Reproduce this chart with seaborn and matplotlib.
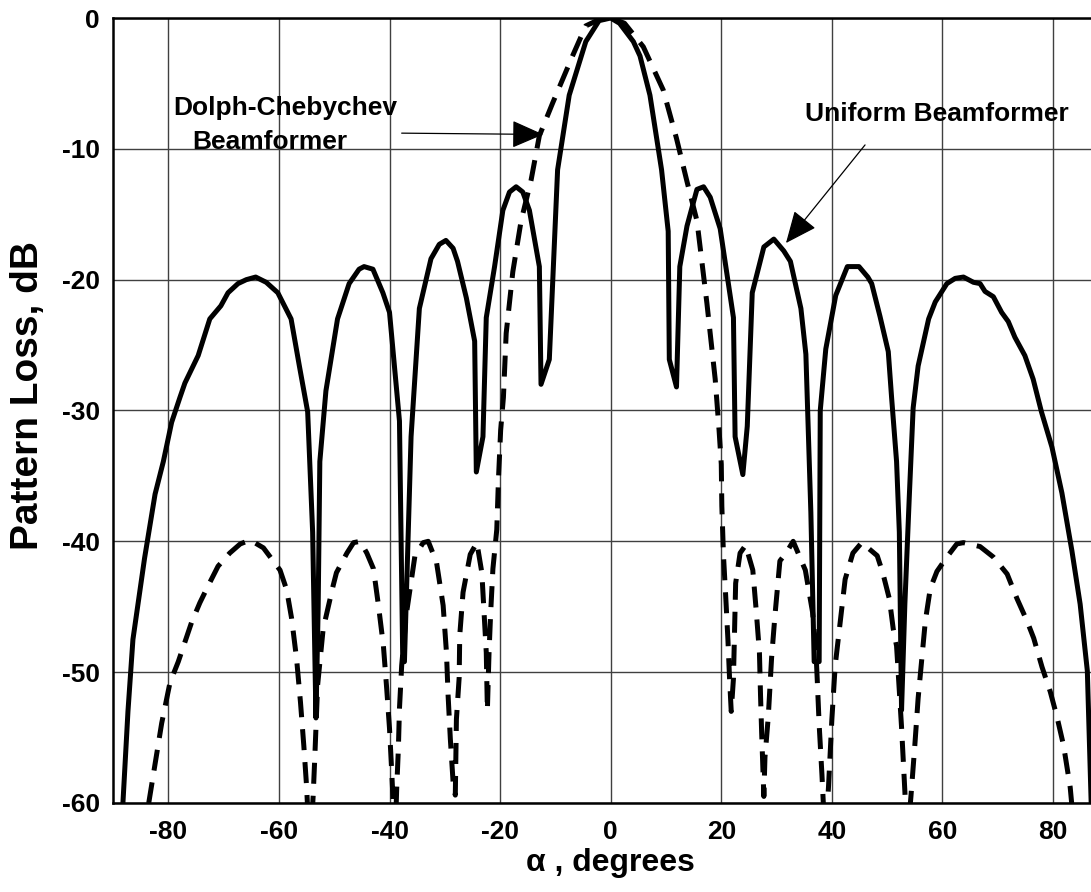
import numpy as np
import pandas as pd
import matplotlib
matplotlib.use("Agg")
import matplotlib.pyplot as plt
import seaborn as sns

# (degrees, dB)
uniform_deg = [-88.6, -87.3, -86.4, -84.3, -82.4, -80.9, -79.4, -77.9, -77.0, -74.6,
               -72.5, -70.5, -69.2, -67.4, -65.9, -64.2, -62.3, -60.2, -57.8, -56.3,
               -54.8, -53.9, -53.3, -52.9, -52.6, -51.5, -49.4, -47.3, -45.5, -44.6,
               -43.0, -41.2, -40.0, -38.2, -37.6, -37.3, -36.1, -34.6, -32.5, -31.0,
               -29.8, -28.5, -27.7, -26.1, -24.6, -24.3, -23.1, -22.5, -21.0, -19.5,
               -18.3, -17.1, -15.9, -14.7, -12.9, -12.6, -11.1, -9.6, -7.5, -4.5,
               -2.1, 0.0, 1.6, 4.1, 5.3, 7.1, 9.2, 10.4, 10.6, 11.9,
               12.5, 13.8, 15.6, 16.8, 18.0, 19.8, 22.2, 22.5, 23.9, 24.7,
               25.6, 27.7, 29.5, 31.3, 32.5, 34.4, 35.3, 36.2, 36.8, 37.7,
               37.9, 38.9, 40.7, 42.8, 44.9, 46.5, 47.2, 48.7, 50.2, 50.8,
               51.7, 52.2, 52.6, 53.2, 54.0, 54.7, 55.6, 57.5, 58.7, 60.8,
               62.3, 63.8, 65.6, 66.8, 67.7, 69.2, 70.7, 71.9, 73.1, 74.9,
               76.4, 77.9, 79.8, 81.6, 83.4, 84.9, 86.2, 87.1]
uniform_db = [-63.0, -53.0, -47.5, -41.3, -36.4, -33.9, -30.9, -29.0, -27.9, -25.8,
              -23.0, -22.0, -21.0, -20.3, -20.0, -19.8, -20.2, -21.0, -23.0, -26.6,
              -30.1, -39.3, -53.5, -45.0, -33.9, -28.5, -23.0, -20.3, -19.2, -19.0,
              -19.2, -21.0, -22.5, -30.8, -49.2, -49.2, -32.0, -22.2, -18.4, -17.3,
              -17.0, -17.6, -18.6, -21.4, -24.7, -34.7, -32.0, -22.9, -19.0, -14.7,
              -13.3, -12.9, -13.3, -14.7, -19.0, -28.0, -26.1, -11.6, -5.9, -1.8,
              -0.2, 0.0, -0.4, -1.8, -2.9, -5.9, -11.6, -16.3, -26.1, -28.2,
              -19.0, -15.9, -13.1, -12.9, -13.7, -16.1, -22.9, -32.0, -34.9, -31.2,
              -21.0, -17.5, -16.9, -17.8, -18.6, -22.2, -25.7, -37.8, -49.2, -49.2,
              -30.0, -25.3, -21.2, -19.0, -19.0, -19.8, -20.3, -22.8, -25.5, -29.0,
              -33.9, -39.3, -52.9, -44.8, -36.6, -29.8, -26.6, -23.0, -21.7, -20.3,
              -19.9, -19.8, -20.2, -20.3, -20.9, -21.3, -22.5, -23.2, -24.4, -25.8,
              -27.6, -30.1, -32.8, -36.3, -40.7, -44.8, -49.9, -63.0]

cheb_deg = [-84.5, -81.2, -79.7, -78.2, -77.0, -75.8, -74.3, -72.8, -71.0, -68.9,
            -67.0, -65.2, -62.8, -59.8, -58.6, -57.7, -56.8, -56.1, -55.5, -55.0,
            -54.4, -53.8, -53.5, -53.0, -52.0, -50.2, -49.6, -47.7, -46.5, -45.3,
            -44.1, -42.9, -42.0, -41.1, -40.5, -40.0, -39.6, -39.0, -38.7, -38.4,
            -38.2, -37.8, -37.0, -35.4, -33.9, -33.0, -31.5, -30.3, -29.7, -29.4,
            -29.0, -28.5, -28.1, -27.9, -27.4, -27.3, -26.7, -25.4, -24.2, -23.3,
            -22.9, -22.5, -22.3, -22.0, -21.7, -21.3, -20.6, -20.3, -19.9, -19.4,
            -18.9, -17.7, -16.2, -14.4, -12.9, -10.5, -6.9, -4.5, -2.0, 0.0,
            2.5, 5.9, 9.5, 11.9, 13.8, 15.6, 17.4, 18.9, 19.6, 20.0,
            20.1, 20.4, 20.8, 21.2, 21.5, 21.8, 22.2, 22.4, 22.6, 23.4,
            24.4, 25.7, 26.3, 26.9, 27.1, 27.3, 27.7, 27.9, 28.5, 29.1,
            29.7, 30.6, 31.7, 33.0, 35.2, 36.5, 37.1, 37.4, 37.7, 38.2,
            38.8, 39.4, 40.0, 40.6, 41.5, 42.4, 43.8, 45.4, 48.2, 49.2,
            50.4, 51.1, 51.7, 52.6, 53.2, 53.6, 54.3, 55.0, 55.6, 56.3,
            56.9, 57.8, 59.0, 60.8, 62.6, 63.8, 66.8, 69.2, 71.7, 73.5,
            75.3, 76.5, 78.0, 79.5, 80.7, 81.9, 83.1, 83.8]
cheb_db = [-62.5, -53.9, -50.8, -49.2, -47.7, -46.2, -44.7, -43.4, -41.9, -40.9,
           -40.2, -39.9, -40.5, -42.2, -43.7, -45.9, -49.0, -52.3, -55.6, -58.7,
           -64.0, -59.4, -56.4, -51.0, -46.7, -43.4, -42.4, -40.9, -40.1, -40.0,
           -40.9, -42.1, -44.9, -48.0, -51.3, -54.3, -57.6, -63.0, -58.9, -55.9,
           -52.8, -49.5, -45.7, -41.1, -40.1, -40.0, -41.6, -44.9, -48.5, -51.8,
           -55.1, -58.4, -59.4, -53.6, -50.4, -47.2, -43.9, -41.0, -40.1, -42.4,
           -45.4, -48.5, -52.9, -48.5, -45.4, -42.1, -39.1, -35.3, -31.5, -29.0,
           -24.1, -19.4, -15.5, -12.4, -9.0, -6.5, -2.9, -0.6, -0.1, 0.0,
           -0.4, -2.2, -5.5, -9.2, -12.5, -15.5, -21.8, -27.6, -31.5, -34.1,
           -37.3, -41.1, -44.2, -47.5, -50.5, -53.0, -50.5, -46.7, -43.2, -40.9,
           -40.3, -42.2, -45.2, -48.5, -51.8, -54.6, -59.5, -56.5, -53.4, -48.9,
           -45.7, -41.5, -40.9, -40.0, -42.2, -45.4, -48.2, -51.0, -54.0, -57.8,
           -63.0, -58.7, -53.6, -49.5, -46.2, -42.9, -40.9, -40.1, -41.1, -42.4,
           -44.4, -46.7, -48.0, -54.2, -59.1, -63.0, -59.5, -55.6, -52.0, -48.8,
           -46.1, -43.6, -42.3, -41.2, -40.2, -40.1, -40.4, -41.2, -42.5, -44.4,
           -46.1, -47.4, -49.6, -51.5, -53.4, -55.6, -58.8, -62.0]

x_ticks = [-80, -60, -40, -20, 0, 20, 40, 60, 80]
y_ticks = [-60, -50, -40, -30, -20, -10, 0]

sns.set_theme(style="white")
plt.rcParams["font.family"] = ["Liberation Sans", "DejaVu Sans"]
plt.rcParams["font.weight"] = "bold"
plt.rcParams["axes.unicode_minus"] = False
for key in ["text.color", "axes.labelcolor", "xtick.color", "ytick.color"]:
    plt.rcParams[key] = "black"

fig = plt.figure(figsize=(10.91, 8.92), dpi=100)
# right edge of the axes sits just outside the picture, like the reference crop
ax = fig.add_axes([0.1036, 0.0998, 0.9123, 0.880])

uni = pd.DataFrame({"deg": uniform_deg, "db": uniform_db})
dc = pd.DataFrame({"deg": cheb_deg, "db": cheb_db})

sns.lineplot(data=uni, x="deg", y="db", ax=ax, sort=False, estimator=None,
             color="black", linewidth=3.6, solid_joinstyle="round")
sns.lineplot(data=dc, x="deg", y="db", ax=ax, sort=False, estimator=None,
             color="black", linewidth=3.6, linestyle=(0, (4.2, 2.4)))

ax.set_xlim(-90, 90)
ax.set_ylim(-60, 0)
ax.set_xticks(x_ticks)
ax.set_yticks(y_ticks)
ax.set_xticklabels([str(t) for t in x_ticks])
ax.set_yticklabels([str(t) for t in y_ticks])
ax.grid(True, color="0.25", linewidth=1.0)
ax.tick_params(axis="both", direction="in", length=5, labelsize=19)
ax.tick_params(axis="x", pad=12.5)
ax.tick_params(axis="y", pad=9.5)
for s in ax.spines.values():
    s.set_color("black")
    s.set_linewidth(1.8)

ax.set_xlabel("α , degrees", fontsize=23, fontweight="bold")
ax.xaxis.set_label_coords(0.4995, -0.076)
ax.xaxis.label.set_va("center")
ax.set_ylabel("Pattern Loss, dB", fontsize=28, fontweight="bold")
ax.yaxis.set_label_coords(-0.085, 0.519)
ax.yaxis.label.set_va("center")

# labels and arrows
ax.text(-58.9, -6.9, "Dolph-Chebychev", fontsize=19, fontweight="bold",
        ha="center", va="center")
ax.text(-61.6, -9.5, "Beamformer", fontsize=19, fontweight="bold",
        ha="center", va="center")
ax.annotate("", xy=(-12.2, -8.9), xytext=(-37.8, -8.8),
            arrowprops=dict(arrowstyle="-|>,head_length=0.8,head_width=0.35",
                            color="black", lw=0.9, mutation_scale=25,
                            shrinkA=0, shrinkB=0))
ax.text(58.9, -7.3, "Uniform Beamformer", fontsize=19, fontweight="bold",
        ha="center", va="center")
ax.annotate("", xy=(31.7, -17.2), xytext=(46.0, -9.7),
            arrowprops=dict(arrowstyle="-|>,head_length=0.8,head_width=0.35",
                            color="black", lw=0.9, mutation_scale=25,
                            shrinkA=0, shrinkB=0))

fig.savefig("out.png", dpi=100)
